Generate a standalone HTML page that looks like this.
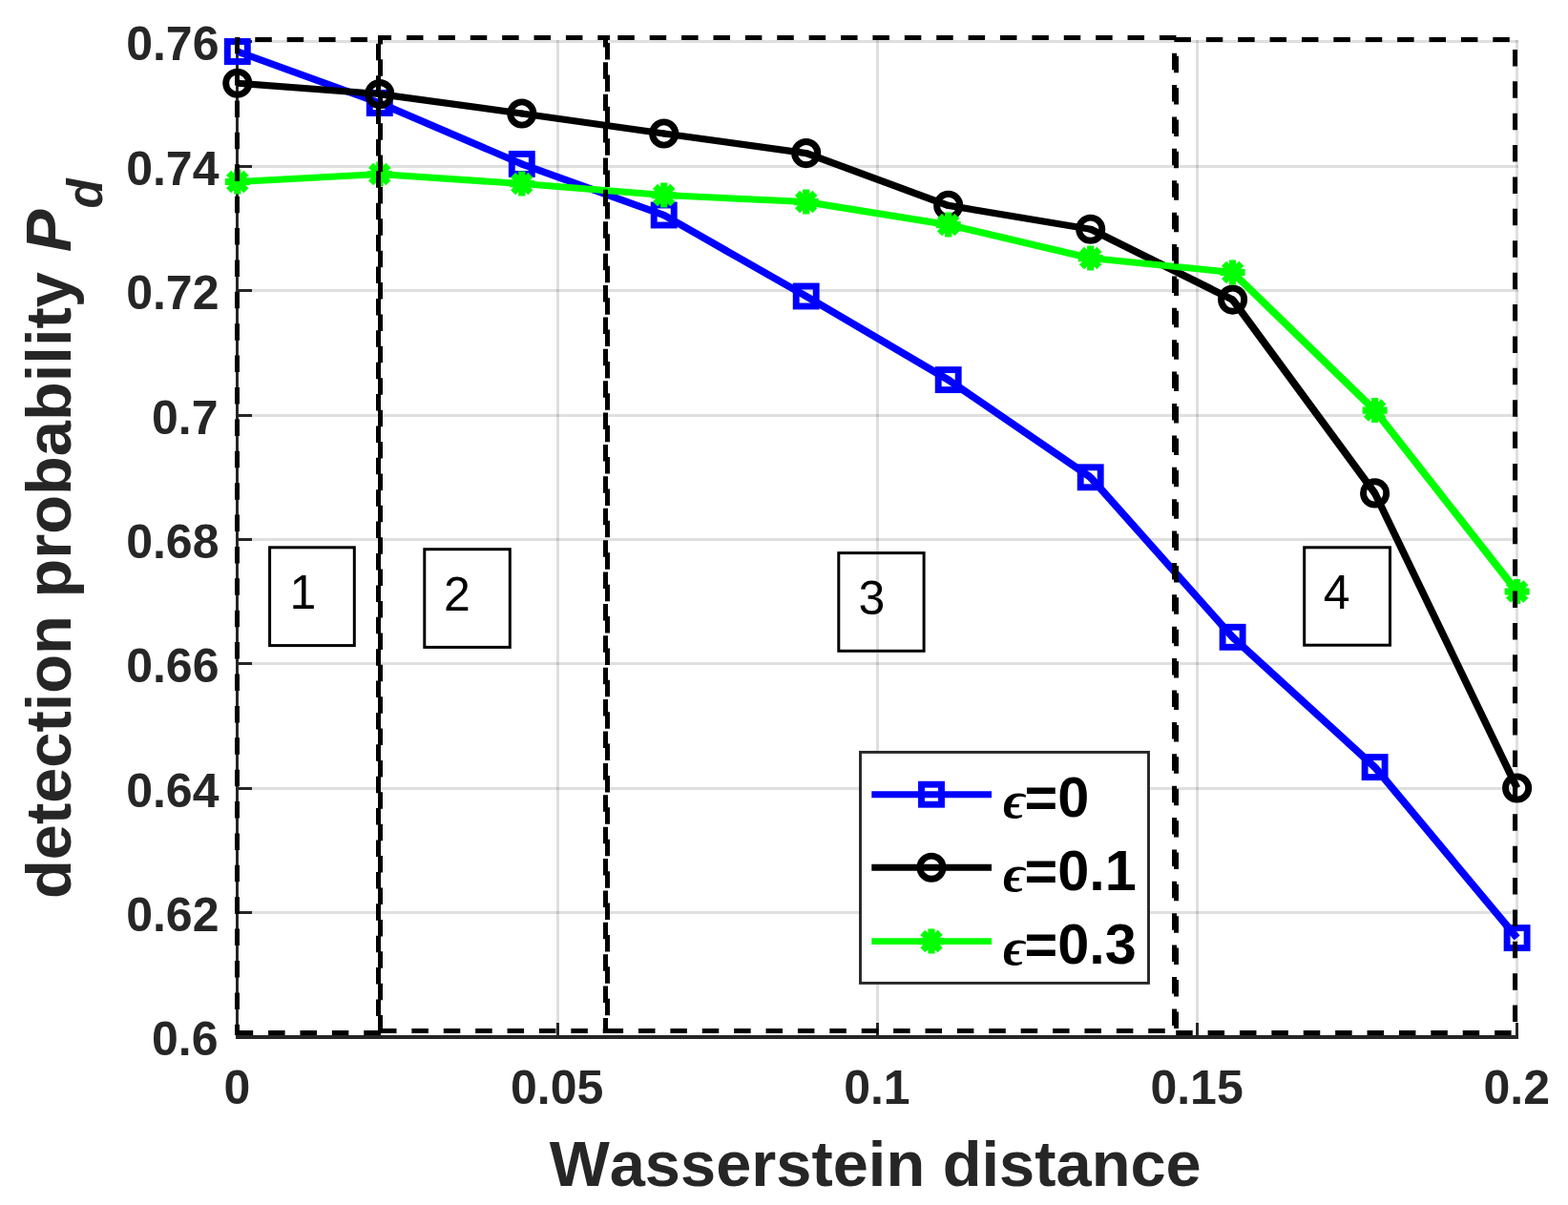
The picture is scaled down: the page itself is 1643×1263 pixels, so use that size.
<!DOCTYPE html>
<html lang="en"><head><meta charset="utf-8"><title>Detection probability vs Wasserstein distance</title>
<style>
html,body{margin:0;padding:0;background:#fff;}
body{width:1643px;height:1263px;overflow:hidden;}
svg{display:block;}
text{font-family:"Liberation Sans",sans-serif;font-kerning:none;}
.tk{font-size:50px;font-weight:bold;fill:#262626;}
.lab{font-size:66.8px;font-weight:bold;fill:#262626;}
.leg{font-size:59.4px;font-weight:bold;fill:#000;}
.eps{font-family:"Liberation Serif",serif;font-style:italic;font-weight:bold;font-size:55.5px;}
.num{font-size:50px;font-weight:normal;fill:#000;}
</style></head><body>
<svg width="1643" height="1263" viewBox="0 0 1643 1263" role="img" aria-label="Detection probability versus Wasserstein distance">
<rect width="1643" height="1263" fill="#fff"/>
<g stroke="#262626" stroke-opacity="0.15" stroke-width="3" fill="none">
<line x1="248.5" y1="42.0" x2="248.5" y2="1087.0"/>
<line x1="584.5" y1="42.0" x2="584.5" y2="1087.0"/>
<line x1="919.5" y1="42.0" x2="919.5" y2="1087.0"/>
<line x1="1254.5" y1="42.0" x2="1254.5" y2="1087.0"/>
<line x1="1589.5" y1="42.0" x2="1589.5" y2="1087.0"/>
<line x1="247.0" y1="43.5" x2="1591.0" y2="43.5"/>
<line x1="247.0" y1="174.5" x2="1591.0" y2="174.5"/>
<line x1="247.0" y1="304.5" x2="1591.0" y2="304.5"/>
<line x1="247.0" y1="435.5" x2="1591.0" y2="435.5"/>
<line x1="247.0" y1="565.5" x2="1591.0" y2="565.5"/>
<line x1="247.0" y1="695.5" x2="1591.0" y2="695.5"/>
<line x1="247.0" y1="826.5" x2="1591.0" y2="826.5"/>
<line x1="247.0" y1="956.5" x2="1591.0" y2="956.5"/>
<line x1="247.0" y1="1086.5" x2="1591.0" y2="1086.5"/>
</g>
<g stroke="#262626" stroke-width="3" fill="none" stroke-linecap="butt">
<line x1="248.5" y1="42.0" x2="248.5" y2="1089.0"/>
<line x1="247.0" y1="1087.0" x2="1591.0" y2="1087.0" stroke-width="4"/>
<line x1="248.5" y1="1087.0" x2="248.5" y2="1072.0"/>
<line x1="584.5" y1="1087.0" x2="584.5" y2="1072.0"/>
<line x1="919.5" y1="1087.0" x2="919.5" y2="1072.0"/>
<line x1="1254.5" y1="1087.0" x2="1254.5" y2="1072.0"/>
<line x1="1589.5" y1="1087.0" x2="1589.5" y2="1072.0"/>
<line x1="248.5" y1="43.5" x2="264.0" y2="43.5"/>
<line x1="248.5" y1="174.5" x2="264.0" y2="174.5"/>
<line x1="248.5" y1="304.5" x2="264.0" y2="304.5"/>
<line x1="248.5" y1="435.5" x2="264.0" y2="435.5"/>
<line x1="248.5" y1="565.5" x2="264.0" y2="565.5"/>
<line x1="248.5" y1="695.5" x2="264.0" y2="695.5"/>
<line x1="248.5" y1="826.5" x2="264.0" y2="826.5"/>
<line x1="248.5" y1="956.5" x2="264.0" y2="956.5"/>
<line x1="248.5" y1="1086.5" x2="264.0" y2="1086.5"/>
</g>
<g stroke="#0000ff" fill="none" stroke-width="6.9" stroke-linejoin="round">
<line x1="248.8" y1="54.0" x2="397.8" y2="108.0" stroke-width="7.48"/>
<line x1="397.8" y1="108.0" x2="546.8" y2="171.9" stroke-width="7.55"/>
<line x1="546.8" y1="171.9" x2="695.7" y2="225.5" stroke-width="7.47"/>
<line x1="695.7" y1="225.5" x2="844.7" y2="310.5" stroke-width="7.67"/>
<line x1="844.7" y1="310.5" x2="993.7" y2="398.1" stroke-width="7.69"/>
<line x1="993.7" y1="398.1" x2="1142.7" y2="500.3" stroke-width="7.74"/>
<line x1="1142.7" y1="500.3" x2="1291.6" y2="667.8" stroke-width="7.79"/>
<line x1="1291.6" y1="667.8" x2="1440.6" y2="804.1" stroke-width="7.80"/>
<line x1="1440.6" y1="804.1" x2="1589.6" y2="983.1" stroke-width="7.79"/>
<circle cx="397.8" cy="108.0" r="3.5" fill="#0000ff" stroke="none"/>
<circle cx="546.8" cy="171.9" r="3.5" fill="#0000ff" stroke="none"/>
<circle cx="695.7" cy="225.5" r="3.5" fill="#0000ff" stroke="none"/>
<circle cx="844.7" cy="310.5" r="3.5" fill="#0000ff" stroke="none"/>
<circle cx="993.7" cy="398.1" r="3.5" fill="#0000ff" stroke="none"/>
<circle cx="1142.7" cy="500.3" r="3.5" fill="#0000ff" stroke="none"/>
<circle cx="1291.6" cy="667.8" r="3.5" fill="#0000ff" stroke="none"/>
<circle cx="1440.6" cy="804.1" r="3.5" fill="#0000ff" stroke="none"/>
<rect x="238.3" y="43.5" width="21.0" height="21.0" stroke-linejoin="miter"/>
<rect x="387.3" y="97.5" width="21.0" height="21.0" stroke-linejoin="miter"/>
<rect x="536.3" y="161.4" width="21.0" height="21.0" stroke-linejoin="miter"/>
<rect x="685.2" y="215.0" width="21.0" height="21.0" stroke-linejoin="miter"/>
<rect x="834.2" y="300.0" width="21.0" height="21.0" stroke-linejoin="miter"/>
<rect x="983.2" y="387.6" width="21.0" height="21.0" stroke-linejoin="miter"/>
<rect x="1132.2" y="489.8" width="21.0" height="21.0" stroke-linejoin="miter"/>
<rect x="1281.1" y="657.3" width="21.0" height="21.0" stroke-linejoin="miter"/>
<rect x="1430.1" y="793.6" width="21.0" height="21.0" stroke-linejoin="miter"/>
<rect x="1579.1" y="972.6" width="21.0" height="21.0" stroke-linejoin="miter"/>
</g>
<g stroke="#000000" fill="none" stroke-width="6.9" stroke-linejoin="round">
<line x1="248.8" y1="87.2" x2="397.8" y2="98.6" stroke-width="7.04"/>
<line x1="397.8" y1="98.6" x2="546.8" y2="119.0" stroke-width="7.14"/>
<line x1="546.8" y1="119.0" x2="695.7" y2="140.0" stroke-width="7.15"/>
<line x1="695.7" y1="140.0" x2="844.7" y2="160.6" stroke-width="7.14"/>
<line x1="844.7" y1="160.6" x2="993.7" y2="215.4" stroke-width="7.48"/>
<line x1="993.7" y1="215.4" x2="1142.7" y2="240.2" stroke-width="7.19"/>
<line x1="1142.7" y1="240.2" x2="1291.6" y2="314.1" stroke-width="7.62"/>
<line x1="1291.6" y1="314.1" x2="1440.6" y2="516.9" stroke-width="7.76"/>
<line x1="1440.6" y1="516.9" x2="1589.6" y2="826.0" stroke-width="7.60"/>
<circle cx="397.8" cy="98.6" r="3.5" fill="#000000" stroke="none"/>
<circle cx="546.8" cy="119.0" r="3.5" fill="#000000" stroke="none"/>
<circle cx="695.7" cy="140.0" r="3.5" fill="#000000" stroke="none"/>
<circle cx="844.7" cy="160.6" r="3.5" fill="#000000" stroke="none"/>
<circle cx="993.7" cy="215.4" r="3.5" fill="#000000" stroke="none"/>
<circle cx="1142.7" cy="240.2" r="3.5" fill="#000000" stroke="none"/>
<circle cx="1291.6" cy="314.1" r="3.5" fill="#000000" stroke="none"/>
<circle cx="1440.6" cy="516.9" r="3.5" fill="#000000" stroke="none"/>
<circle cx="248.8" cy="87.2" r="12.1"/>
<circle cx="397.8" cy="98.6" r="12.1"/>
<circle cx="546.8" cy="119.0" r="12.1"/>
<circle cx="695.7" cy="140.0" r="12.1"/>
<circle cx="844.7" cy="160.6" r="12.1"/>
<circle cx="993.7" cy="215.4" r="12.1"/>
<circle cx="1142.7" cy="240.2" r="12.1"/>
<circle cx="1291.6" cy="314.1" r="12.1"/>
<circle cx="1440.6" cy="516.9" r="12.1"/>
<circle cx="1589.6" cy="826.0" r="12.1"/>
</g>
<g stroke="#00ff00" fill="none" stroke-width="6.9" stroke-linejoin="round">
<line x1="248.8" y1="190.5" x2="397.8" y2="182.6" stroke-width="7.00"/>
<line x1="397.8" y1="182.6" x2="546.8" y2="192.6" stroke-width="7.02"/>
<line x1="546.8" y1="192.6" x2="695.7" y2="204.6" stroke-width="7.04"/>
<line x1="695.7" y1="204.6" x2="844.7" y2="211.6" stroke-width="6.98"/>
<line x1="844.7" y1="211.6" x2="993.7" y2="235.6" stroke-width="7.18"/>
<line x1="993.7" y1="235.6" x2="1142.7" y2="270.6" stroke-width="7.30"/>
<line x1="1142.7" y1="270.6" x2="1291.6" y2="285.5" stroke-width="7.08"/>
<line x1="1291.6" y1="285.5" x2="1440.6" y2="430.1" stroke-width="7.80"/>
<line x1="1440.6" y1="430.1" x2="1589.6" y2="620.0" stroke-width="7.77"/>
<circle cx="397.8" cy="182.6" r="3.5" fill="#00ff00" stroke="none"/>
<circle cx="546.8" cy="192.6" r="3.5" fill="#00ff00" stroke="none"/>
<circle cx="695.7" cy="204.6" r="3.5" fill="#00ff00" stroke="none"/>
<circle cx="844.7" cy="211.6" r="3.5" fill="#00ff00" stroke="none"/>
<circle cx="993.7" cy="235.6" r="3.5" fill="#00ff00" stroke="none"/>
<circle cx="1142.7" cy="270.6" r="3.5" fill="#00ff00" stroke="none"/>
<circle cx="1291.6" cy="285.5" r="3.5" fill="#00ff00" stroke="none"/>
<circle cx="1440.6" cy="430.1" r="3.5" fill="#00ff00" stroke="none"/>
<path stroke-width="7.2" d="M235.8 190.5H261.8M248.8 177.5V203.5M239.6 181.3L258.0 199.7M239.6 199.7L258.0 181.3"/>
<path stroke-width="7.2" d="M384.8 182.6H410.8M397.8 169.6V195.6M388.6 173.4L407.0 191.8M388.6 191.8L407.0 173.4"/>
<path stroke-width="7.2" d="M533.8 192.6H559.8M546.8 179.6V205.6M537.6 183.4L555.9 201.8M537.6 201.8L555.9 183.4"/>
<path stroke-width="7.2" d="M682.7 204.6H708.7M695.7 191.6V217.6M686.5 195.4L704.9 213.8M686.5 213.8L704.9 195.4"/>
<path stroke-width="7.2" d="M831.7 211.6H857.7M844.7 198.6V224.6M835.5 202.4L853.9 220.8M835.5 220.8L853.9 202.4"/>
<path stroke-width="7.2" d="M980.7 235.6H1006.7M993.7 222.6V248.6M984.5 226.4L1002.9 244.8M984.5 244.8L1002.9 226.4"/>
<path stroke-width="7.2" d="M1129.7 270.6H1155.7M1142.7 257.6V283.6M1133.5 261.4L1151.9 279.8M1133.5 279.8L1151.9 261.4"/>
<path stroke-width="7.2" d="M1278.6 285.5H1304.6M1291.6 272.5V298.5M1282.5 276.3L1300.8 294.7M1282.5 294.7L1300.8 276.3"/>
<path stroke-width="7.2" d="M1427.6 430.1H1453.6M1440.6 417.1V443.1M1431.4 420.9L1449.8 439.3M1431.4 439.3L1449.8 420.9"/>
<path stroke-width="7.2" d="M1576.6 620.0H1602.6M1589.6 607.0V633.0M1580.4 610.8L1598.8 629.2M1580.4 629.2L1598.8 610.8"/>
</g>
<g class="tk" text-anchor="middle">
<text x="248.5" y="1156.6">0</text>
<text x="583.7" y="1156.6">0.05</text>
<text x="918.9" y="1156.6">0.1</text>
<text x="1254.1" y="1156.6">0.15</text>
<text x="1589.3" y="1156.6">0.2</text>
</g>
<g class="tk" text-anchor="end">
<text x="229.5" y="63.4">0.76</text>
<text x="229.5" y="194.4">0.74</text>
<text x="229.5" y="324.4">0.72</text>
<text x="228.5" y="455.4">0.7</text>
<text x="229.5" y="585.4">0.68</text>
<text x="229.5" y="715.4">0.66</text>
<text x="229.5" y="846.4">0.64</text>
<text x="229.5" y="976.4">0.62</text>
<text x="228.5" y="1106.4">0.6</text>
</g>
<text class="lab" text-anchor="middle" x="917.2" y="1243.0">Wasserstein distance</text>
<text class="lab" transform="translate(73.8 942) rotate(-90)">detection probability <tspan font-style="italic" dx="2.2">P</tspan><tspan font-style="italic" font-size="51px" dy="33.2" dx="1.4">d</tspan></text>
<g stroke="#000" stroke-width="5" fill="none" stroke-dasharray="17.50 15.89">
<line x1="248.5" y1="39.0" x2="248.5" y2="1085.0" stroke-dashoffset="0.30"/>
<line x1="396.5" y1="44.0" x2="396.5" y2="1085.0" stroke-dashoffset="31.63"/>
<line x1="248.5" y1="41.5" x2="396.5" y2="41.5" stroke-dashoffset="14.59"/>
<line x1="246.0" y1="1082.5" x2="399.0" y2="1082.5" stroke-dashoffset="31.69"/>
<line x1="398.5" y1="37.0" x2="398.5" y2="1083.0" stroke-dashoffset="8.03"/>
<line x1="636.5" y1="39.5" x2="636.5" y2="1080.5" stroke-dashoffset="27.88"/>
<line x1="396.0" y1="39.5" x2="639.0" y2="39.5" stroke-dashoffset="3.40"/>
<line x1="396.0" y1="1080.5" x2="636.5" y2="1080.5" stroke-dashoffset="31.39"/>
<line x1="634.5" y1="42.0" x2="634.5" y2="1083.0" stroke-dashoffset="10.09"/>
<line x1="1230.5" y1="44.0" x2="1230.5" y2="1080.5" stroke-dashoffset="21.69"/>
<line x1="636.5" y1="39.5" x2="1232.5" y2="39.5" stroke-dashoffset="22.59"/>
<line x1="632.0" y1="1080.5" x2="1230.5" y2="1080.5" stroke-dashoffset="29.79"/>
<line x1="1232.5" y1="44.0" x2="1232.5" y2="1082.5" stroke-dashoffset="18.69"/>
<line x1="1587.5" y1="44.0" x2="1587.5" y2="1082.5" stroke-dashoffset="25.49"/>
<line x1="1230.0" y1="41.5" x2="1587.5" y2="41.5" stroke-dashoffset="32.99"/>
<line x1="1232.0" y1="1082.5" x2="1587.5" y2="1082.5" stroke-dashoffset="33.19"/>
</g>
<g stroke="#000" stroke-width="3" fill="none">
<rect x="282.6" y="573.8" width="88.7" height="102.8"/>
<rect x="444.8" y="575.7" width="89.5" height="102.7"/>
<rect x="878.8" y="579.6" width="89.3" height="102.7"/>
<rect x="1366.7" y="573.8" width="89.8" height="102.4"/>
</g>
<g class="num">
<text x="303.5" y="637.9">1</text>
<text x="465.0" y="639.8">2</text>
<text x="899.4" y="643.7">3</text>
<text x="1386.8" y="637.5">4</text>
</g>
<rect x="901.5" y="788.4" width="302" height="242" fill="#fff" stroke="#262626" stroke-width="2.9"/>
<g stroke="#0000ff" fill="none" stroke-width="6.9">
<line x1="913.3" y1="832.7" x2="1039" y2="832.7"/>
<rect x="965.5" y="822.2" width="21.0" height="21.0" stroke-linejoin="miter"/>
</g>
<text class="leg" x="1051" y="855.6"><tspan class="eps" dy="0.9">ϵ</tspan><tspan x="1073.6" dy="-0.9">=0</tspan></text>
<g stroke="#000000" fill="none" stroke-width="6.9">
<line x1="913.3" y1="909.2" x2="1039" y2="909.2"/>
<circle cx="976.0" cy="909.2" r="12.1"/>
</g>
<text class="leg" x="1051" y="932.9"><tspan class="eps" dy="0.9">ϵ</tspan><tspan x="1073.6" dy="-0.9">=0.1</tspan></text>
<g stroke="#00ff00" fill="none" stroke-width="6.9">
<line x1="913.3" y1="986.6" x2="1039" y2="986.6"/>
<path stroke-width="7.2" d="M963.0 986.6H989.0M976.0 973.6V999.6M966.8 977.4L985.2 995.8M966.8 995.8L985.2 977.4"/>
</g>
<text class="leg" x="1051" y="1010.2"><tspan class="eps" dy="0.9">ϵ</tspan><tspan x="1073.6" dy="-0.9">=0.3</tspan></text>
</svg>
</body></html>
